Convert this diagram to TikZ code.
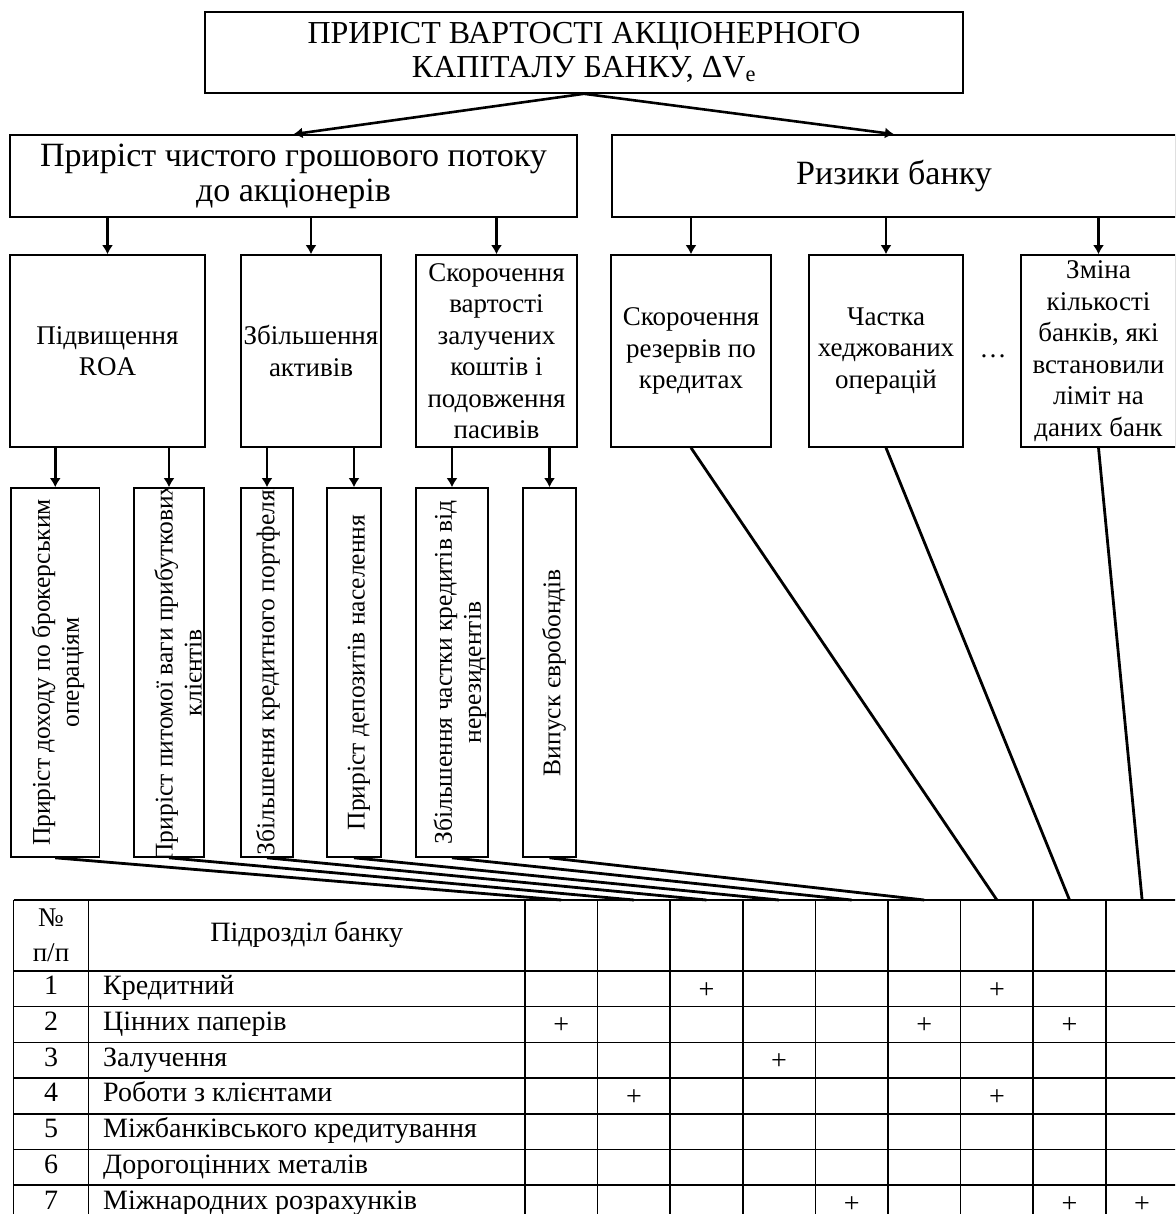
\documentclass[tikz,border=0pt]{standalone}
\usepackage{fontspec}
\setmainfont{Liberation Serif}
\usetikzlibrary{arrows.meta}

\begin{document}
\begin{tikzpicture}[x=1pt,y=-1pt,
  box/.style={draw,line width=1.6pt,inner sep=0pt,align=center},
  rot/.style={rotate=90,inner sep=0pt,align=center,font=\fontsize{25.5}{29}\selectfont},
  arr/.style={line width=2.6pt,-{Latex[length=9pt,width=11pt]}},
  lnk/.style={line width=2.8pt},
  grid/.style={line width=1.5pt},
  cell/.style={inner sep=0pt,text height=19pt,text depth=7pt,font=\fontsize{28}{34}\selectfont},
  plus/.style={inner sep=0pt,font=\fontsize{28}{34}\selectfont}]
\useasboundingbox (0,0) rectangle (1175,1214);
\clip (0,0) rectangle (1175,1214);

% level 1
\node[box,minimum width=758,minimum height=81,font=\fontsize{32}{34}\selectfont] (top) at (584,52.5)
  {ПРИРІСТ ВАРТОСТІ АКЦІОНЕРНОГО\\КАПІТАЛУ БАНКУ, ΔV\textsubscript{e}};

% level 2
\node[box,minimum width=567,minimum height=82,font=\fontsize{34}{35}\selectfont] (flow) at (293.5,176)
  {Приріст чистого грошового потоку\\до акціонерів};
\node[box,minimum width=564,minimum height=82,font=\fontsize{34}{35}\selectfont] (risk) at (894,176)
  {\raisebox{-8pt}{Ризики банку}};
\draw[arr] (top.south) -- (flow.north);
\draw[arr] (top.south) -- (risk.north);

% level 3
\tikzset{mid/.style={box,minimum height=192,font=\fontsize{27}{31.5}\selectfont}}
\node[mid,minimum width=195] (roa) at (107.5,351) {Підвищення\\ROA};
\node[mid,minimum width=140] (assets) at (311,351) {Збільшення\\активів};
\node[mid,minimum width=161] (cost) at (496.5,351)
  {Скорочення\\вартості\\залучених\\коштів і\\подовження\\пасивів};
\node[mid,minimum width=160] (reserves) at (691,351) {Скорочення\\резервів по\\кредитах};
\node[mid,minimum width=154] (hedge) at (886,351) {Частка\\хеджованих\\операцій};
\node[font=\fontsize{27}{31.5}\selectfont] (dots) at (993,356) {…};
\node[mid,minimum width=155] (limit) at (1098.5,351)
  {Зміна\\кількості\\банків, які\\встановили\\ліміт на\\даних банк};
\foreach \b in {roa,assets,cost}
  \draw[arr] (flow.south -| \b.north) -- (\b.north);
\foreach \b in {reserves,hedge,limit}
  \draw[arr] (risk.south -| \b.north) -- (\b.north);

% level 4, rotated text
\tikzset{low/.style={box,minimum height=369}}
\node[low,minimum width=88.5] (r1) at (55.25,672.5) {};
\node[low,minimum width=70] (r2) at (169,672.5) {};
\node[low,minimum width=52] (r3) at (267,672.5) {};
\node[low,minimum width=54] (r4) at (354,672.5) {};
\node[low,minimum width=72] (r5) at (452,672.5) {};
\node[low,minimum width=53] (r6) at (549.5,672.5) {};
\node[rot] (t1) at (58,672.5) {Приріст доходу по брокерським\\операціям};
\begin{scope}
\clip (r2.north west) rectangle (r2.south east);
\node[rot] (t2) at (178,672.5) {Приріст питомої ваги прибуткових\\клієнтів};
\end{scope}
\node[rot] (t3) at (268,672.5) {Збільшення кредитного портфеля};
\node[rot] (t4) at (359,672.5) {Приріст депозитів населення};
\node[rot] (t5) at (460,672.5) {Збільшення частки кредитів від\\нерезидентів};
\node[rot] (t6) at (554,672.5) {Випуск євробондів};
\foreach \a/\b in {roa/r1,roa/r2,assets/r3,assets/r4,cost/r5,cost/r6}
  \draw[arr] (\a.south -| \b.north) -- (\b.north);

% table
\foreach \x in {13.5,88.5,525}
  \draw[grid] (\x,900) -- (\x,1222);
\foreach \k in {1,...,9}{
  \draw[grid] (525+72.6*\k,900) -- (525+72.6*\k,1222);
  \coordinate (c\k) at (525+72.6*\k-36.3,900);
}
\draw[grid] (13.5,900) -- (1180,900);
\foreach \k in {0,...,7}
  \draw[grid] (13.5,971+35.7*\k) -- (1180,971+35.7*\k);
\node[inner sep=0pt,align=center,font=\fontsize{27}{35}\selectfont] (no) at (51,935.5) {№\\п/п};
\node[cell] (unit) at (306.75,935.5) {Підрозділ банку};
\foreach \n/\t [count=\i] in {1/Кредитний,2/Цінних паперів,3/Залучення,4/Роботи з клієнтами,
    5/Міжбанківського кредитування,6/Дорогоцінних металів,7/Міжнародних розрахунків}{
  \node[cell] (n\i) at (51,971+35.7*\i-17.85) {\n};
  \node[cell,anchor=west] (u\i) at (103,971+35.7*\i-17.85) {\t};
}
\foreach \c/\r in {3/1,7/1,1/2,6/2,8/2,4/3,2/4,7/4,5/7,8/7,9/7}
  \node[plus] (p\c\r) at (525+72.6*\c-36.3,971+35.7*\r-16.5) {+};

% links to the table
\foreach \b/\k in {r1/1,r2/2,r3/3,r4/4,r5/5,r6/6,reserves/7,hedge/8,limit/9}
  \draw[lnk] (\b.south) -- (c\k);
\end{tikzpicture}
\end{document}
